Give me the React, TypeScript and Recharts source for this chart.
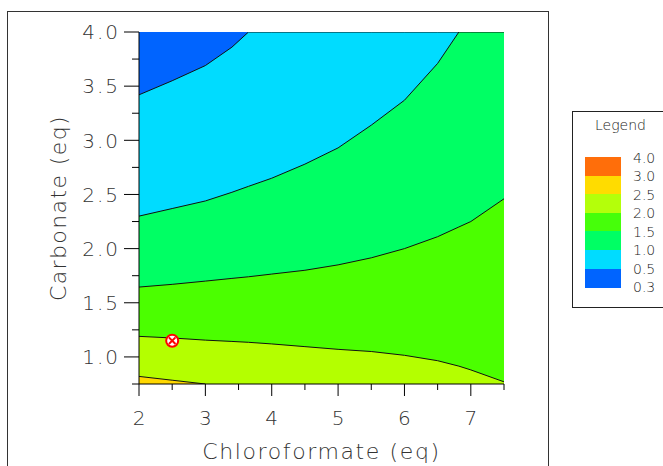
import React from 'react';
import { ComposedChart, Area, XAxis, YAxis, Scatter, CartesianGrid } from 'recharts';

// Chloroformate (eq) sample positions along each contour
const chloroformate = [2, 2.5, 3, 3.4, 3.65, 4, 4.5, 5, 5.5, 6, 6.5, 6.82, 7, 7.5];
// Carbonate (eq) of each contour line (clipped at plot top 4.0)
const contour05 = [3.42, 3.55, 3.69, 3.86, 4.0, 4.0, 4.0, 4.0, 4.0, 4.0, 4.0, 4.0, 4.0, 4.0];
const contour10 = [2.3, 2.37, 2.44, 2.52, 2.575, 2.65, 2.78, 2.93, 3.14, 3.37, 3.71, 4.0, 4.0, 4.0];
const contour15 = [1.645, 1.67, 1.7, 1.725, 1.74, 1.765, 1.8, 1.85, 1.915, 2.0, 2.11, 2.2, 2.25, 2.46];
const contour20 = [1.19, 1.175, 1.155, 1.143, 1.135, 1.12, 1.095, 1.07, 1.05, 1.015, 0.965, 0.915, 0.88, 0.77];
const contour25 = [0.82, 0.785, 0.75, null, null, null, null, null, null, null, null, null, null, null];

const optimum = [{ x: 2.5, y: 1.15 }];

const xTicks = [2, 2.5, 3, 3.5, 4, 4.5, 5, 5.5, 6, 6.5, 7, 7.5];
const xLabelTicks = [2, 3, 4, 5, 6, 7];
const yTicks = [0.75, 1, 1.25, 1.5, 1.75, 2, 2.25, 2.5, 2.75, 3, 3.25, 3.5, 3.75, 4];
const yLabelTicks = [1, 1.5, 2, 2.5, 3, 3.5, 4];

const legendLabels = ['4.0', '3.0', '2.5', '2.0', '1.5', '1.0', '0.5', '0.3'];
const legendColors = ['#FF6E0A', '#FFDC00', '#B4FF0A', '#46FF0A', '#00FF64', '#00DCFF', '#0064FF'];

const C_BLUE = '#0064FF';
const C_CYAN = '#00DCFF';
const C_SPRING = '#00FF64';
const C_GREEN = '#4BFF00';
const C_YG = '#B4FF00';
const C_YELLOW = '#FFD700';

const data = chloroformate.map((x, i) => ({
  x,
  c05: contour05[i],
  c10: contour10[i],
  c15: contour15[i],
  c20: contour20[i],
  c25: contour25[i],
}));

const FONT = '"DejaVu Sans ExtraLight", "DejaVu Sans Light", "DejaVu Sans", sans-serif';
const TXT = '#333';

const YTick = (props: any) => {
  const { x, y, payload } = props;
  const major = yLabelTicks.includes(payload.value);
  return (
    <g>
      <line x1={x - (major ? 15 : 7)} x2={x} y1={y} y2={y} stroke="#000" strokeWidth={1} />
      {major && (
        <text x={x - 19} y={y} dy="0.36em" textAnchor="end" fontFamily={FONT} fontWeight={200} fontSize={20} letterSpacing={2} fill={TXT}>
          {payload.value.toFixed(1)}
        </text>
      )}
    </g>
  );
};

const XTick = (props: any) => {
  const { x, y, payload } = props;
  const major = xLabelTicks.includes(payload.value);
  return (
    <g>
      <line x1={x} x2={x} y1={y} y2={y + (major ? 12 : 6)} stroke="#000" strokeWidth={1} />
      {major && (
        <text x={x} y={y + 34} dy="0.36em" textAnchor="middle" fontFamily={FONT} fontWeight={200} fontSize={20} fill={TXT}>
          {String(payload.value)}
        </text>
      )}
    </g>
  );
};

const Marker = (props: any) => {
  const { cx, cy } = props;
  const d = 3.3;
  return (
    <g>
      <circle cx={cx} cy={cy} r={6} fill="#fff" stroke="#FF0000" strokeWidth={2} />
      <line x1={cx - d} y1={cy - d} x2={cx + d} y2={cy + d} stroke="#FF0000" strokeWidth={2} />
      <line x1={cx - d} y1={cy + d} x2={cx + d} y2={cy - d} stroke="#FF0000" strokeWidth={2} />
    </g>
  );
};

export default function App() {
  return (
    <div style={{ position: 'absolute', left: 0, top: 0, width: 663, height: 466, overflow: 'hidden', background: '#fff' }}>
      <div style={{ position: 'absolute', left: 7, top: 11, width: 540, height: 500, border: '1px solid #333' }} />
      <div style={{ position: 'absolute', left: 0, top: 0 }}>
        <ComposedChart width={663} height={466} data={data} margin={{ top: 32, right: 159, bottom: 0, left: 0 }}>
          <CartesianGrid horizontal={false} vertical={false} fill={C_BLUE} stroke="none" />
          <XAxis
            dataKey="x"
            type="number"
            domain={[2, 7.5]}
            ticks={xTicks}
            interval={0}
            allowDataOverflow
            height={82}
            tickSize={0}
            tickMargin={0}
            tickLine={false}
            axisLine={{ stroke: '#000', strokeWidth: 1 }}
            tick={<XTick />}
            label={{
              content: (p: any) => {
                const vb = p.viewBox;
                return (
                  <text x={vb.x + vb.width / 2} y={vb.y + 67} dy="0.36em" textAnchor="middle" fontFamily={FONT} fontWeight={200} fontSize={22} letterSpacing={1.6} fill={TXT}>
                    Chloroformate (eq)
                  </text>
                );
              },
            }}
          />
          <YAxis
            type="number"
            domain={[0.75, 4]}
            ticks={yTicks}
            interval={0}
            allowDataOverflow
            width={139}
            tickSize={0}
            tickMargin={0}
            tickLine={false}
            axisLine={{ stroke: '#000', strokeWidth: 1 }}
            tick={<YTick />}
            label={{
              content: (p: any) => {
                const vb = p.viewBox;
                const cx = vb.x + 58;
                const cy = vb.y + vb.height / 2;
                return (
                  <text x={cx} y={cy} dy="0.36em" textAnchor="middle" transform={`rotate(-90 ${cx} ${cy})`} fontFamily={FONT} fontWeight={200} fontSize={22} letterSpacing={1.4} fill={TXT}>
                    Carbonate (eq)
                  </text>
                );
              },
            }}
          />
          <XAxis xAxisId="top" orientation="top" type="number" domain={[2, 7.5]} height={0} tick={false} tickLine={false} axisLine={{ stroke: '#444' }} />
          <YAxis yAxisId="right" orientation="right" type="number" domain={[0.75, 4]} width={0} tick={false} tickLine={false} axisLine={{ stroke: '#555' }} />
          <Area type="linear" dataKey="c05" baseValue="dataMin" fill={C_CYAN} fillOpacity={1} stroke="#111" strokeWidth={1} isAnimationActive={false} dot={false} activeDot={false} />
          <Area type="linear" dataKey="c10" baseValue="dataMin" fill={C_SPRING} fillOpacity={1} stroke="#111" strokeWidth={1} isAnimationActive={false} dot={false} activeDot={false} />
          <Area type="linear" dataKey="c15" baseValue="dataMin" fill={C_GREEN} fillOpacity={1} stroke="#111" strokeWidth={1} isAnimationActive={false} dot={false} activeDot={false} />
          <Area type="linear" dataKey="c20" baseValue="dataMin" fill={C_YG} fillOpacity={1} stroke="#111" strokeWidth={1} isAnimationActive={false} dot={false} activeDot={false} />
          <Area type="linear" dataKey="c25" baseValue="dataMin" fill={C_YELLOW} fillOpacity={1} stroke="#111" strokeWidth={1} isAnimationActive={false} dot={false} activeDot={false} />
          <Scatter data={optimum} dataKey="y" shape={<Marker />} isAnimationActive={false} />
        </ComposedChart>
      </div>
      <div style={{ position: 'absolute', left: 572, top: 111, width: 120, height: 195, border: '1px solid #222', fontFamily: FONT }}>
        <div style={{ position: 'absolute', left: 0, top: 5, width: 95, textAlign: 'center', fontSize: 14, color: '#222' }}>Legend</div>
        {legendColors.map((c, i) => (
          <div key={c} style={{ position: 'absolute', left: 12, top: 45 + i * 18.6, width: 36, height: 19.5, background: c }} />
        ))}
        {legendLabels.map((l, i) => (
          <div key={l} style={{ position: 'absolute', left: 60, top: 45.5 + i * 18.5 - 9, height: 18, lineHeight: '18px', fontSize: 14, color: '#222' }}>{l}</div>
        ))}
      </div>
    </div>
  );
}
